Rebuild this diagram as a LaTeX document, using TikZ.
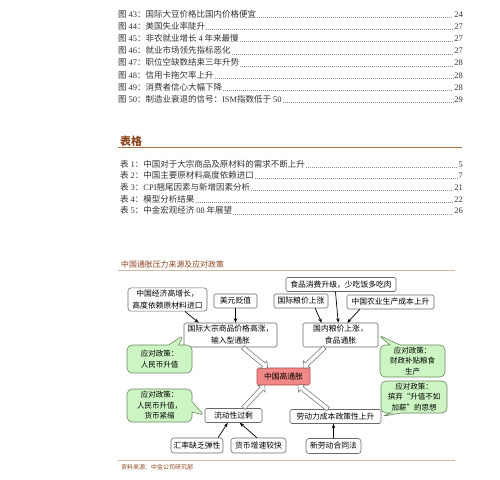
\documentclass[tikz,border=0pt]{standalone}
\usepackage{fontspec}
\setmainfont{Noto Sans CJK SC}
\newfontfamily\tms{Liberation Serif}
\usetikzlibrary{calc,arrows.meta,shapes.callouts,shapes.arrows}

\definecolor{heading}{RGB}{140,70,30}
\definecolor{rulebrown}{RGB}{175,115,70}
\definecolor{lightrule}{RGB}{210,185,165}
\definecolor{boxline}{RGB}{105,105,105}
\definecolor{policyfill}{RGB}{205,245,195}
\definecolor{policyline}{RGB}{110,135,100}
\definecolor{hotfill}{RGB}{242,135,135}
\definecolor{hotline}{RGB}{185,70,70}

\newcommand{\nm}[1]{{\tms #1}}
\newcommand{\hollowarrow}[2]{%
  \path let \p1=(#1), \p2=(#2), \n1={atan2(\y2-\y1,\x2-\x1)},
    \n2={veclen(\x2-\x1,\y2-\y1)} in
    node[hollow, rotate=\n1, minimum height=\n2, anchor=tail] at (#1) {};}

\begin{document}
\begin{tikzpicture}
  [x=1pt,y=-1pt,
   tocitem/.style={anchor=base west,inner sep=0pt,font=\fontsize{8.5}{10}\selectfont,text=black!80},
   tocpage/.style={anchor=base east,inner sep=0pt,font=\fontsize{8.5}{10}\selectfont,text=black!80},
   leader/.style={black!45,line width=0.5pt,dash pattern=on 0.5pt off 1.5pt,shorten <=1pt,shorten >=1pt},
   box/.style={draw=boxline,fill=white,line width=0.6pt,rounded corners=1.5pt,align=center,
     inner sep=2pt,minimum height=14pt,font=\fontsize{7.8}{12}\selectfont},
   rbox/.style={box,rounded corners=3pt},
   hot/.style={box,draw=hotline,fill=hotfill,minimum width=53pt,minimum height=17pt},
   policy/.style={rectangle callout,draw=policyline,fill=policyfill,line width=0.6pt,
     rounded corners=5pt,align=center,inner sep=2pt,minimum width=65pt,
     callout pointer width=10pt,font=\fontsize{7.5}{10.5}\selectfont},
   hollow/.style={single arrow,draw=boxline,fill=white,line width=0.5pt,inner sep=1.9pt,
     single arrow head extend=2.8pt,single arrow head indent=0pt},
   arr/.style={-{Stealth[length=4.5pt,width=3.5pt]},line width=0.7pt}]
  \fill[white] (0,0) rectangle (500,479);
  \useasboundingbox (0,0) rectangle (500,479);

  % list of figures
  \foreach \n/\t/\p [count=\i from 0] in {43/国际大豆价格比国内价格便宜/24,
      44/美国失业率陡升/27, 45/非农就业增长 \nm{4} 年来最慢/27, 46/就业市场领先指标恶化/27,
      47/职位空缺数结束三年升势/28, 48/信用卡拖欠率上升/28, 49/消费者信心大幅下降/28,
      50/制造业衰退的信号：\nm{ISM}指数低于 \nm{50}/29} {
    \node[tocitem] (f\n) at (118,{17.5+12.1*\i}) {图 \nm{\n}：\t};
    \node[tocpage] (fp\n) at (463,{17.5+12.1*\i}) {\nm{\p}};
    \draw[leader] (f\n.base east) -- (fp\n.base west);
  }

  % list of tables
  \node[anchor=west,inner sep=0pt,text=heading,font=\fontsize{11}{12}\selectfont\bfseries] (tabhead) at (120,141) {表格};
  \draw[rulebrown,line width=1.5pt] (118,147.5) -- (462,147.5);
  \foreach \n/\t/\p [count=\i from 0] in {1/中国对于大宗商品及原材料的需求不断上升/5,
      2/中国主要原材料高度依赖进口/7, 3/\nm{CPI}翘尾因素与新增因素分析/21,
      4/模型分析结果/22, 5/中金宏观经济 \nm{08} 年展望/26} {
    \node[tocitem] (t\n) at (120,{167+11.7*\i}) {表 \nm{\n}：\t};
    \node[tocpage] (tp\n) at (463,{167+11.7*\i}) {\nm{\p}};
    \draw[leader] (t\n.base east) -- (tp\n.base west);
  }

  % chart title and rules
  \node[anchor=west,inner sep=0pt,text=heading,font=\fontsize{7.9}{9}\selectfont] (title) at (121,264) {中国通胀压力来源及应对政策};
  \draw[lightrule,line width=0.8pt] (118,270.5) -- (455,270.5);
  \draw[lightrule,line width=0.8pt] (118,460) -- (455,460);
  \node[anchor=west,inner sep=0pt,text=heading,font=\fontsize{6}{7}\selectfont] (source) at (121,467) {资料来源：中金公司研究部};

  % causes
  \node[box,minimum width=110pt] (food) at (341,284.5) {食品消费升级，少吃饭多吃肉};
  \node[rbox,minimum width=79pt,minimum height=23pt] (growth) at (167.5,299.5) {中国经济高增长，\\高度依赖原材料进口};
  \node[box,minimum width=43pt] (usd) at (235.5,301) {美元贬值};
  \node[box,minimum width=54pt] (grain) at (301,301) {国际粮价上涨};
  \node[box,minimum width=87pt] (farm) at (390.5,302) {中国农业生产成本上升};
  \node[box,minimum width=93pt,minimum height=24pt] (commod) at (230.5,335) {国际大宗商品价格高涨，\\输入型通胀};
  \node[box,minimum width=75pt,minimum height=24pt] (domestic) at (340.5,335) {国内粮价上涨，\\食品通胀};
  \node[hot] (cpi) at (283.5,376.5) {中国高通胀};
  \node[box,minimum width=57pt] (liquid) at (233.5,415.5) {流动性过剩};
  \node[box,minimum width=91pt] (labor) at (335.5,416.5) {劳动力成本政策性上升};
  \node[rbox,minimum width=52pt,minimum height=15pt] (fx) at (197,445.5) {汇率缺乏弹性};
  \node[rbox,minimum width=55pt,minimum height=15pt] (money) at (258.5,445.5) {货币增速较快};
  \node[rbox,minimum width=55pt,minimum height=15pt] (law) at (333.5,446) {新劳动合同法};

  % thin arrows
  \draw[arr] ($(growth.south west)!0.72!(growth.south east)$) -- ($(commod.north west)!0.16!(commod.north east)$);
  \draw[arr] (usd.south) -- (usd.south |- commod.north);
  \draw[arr] ($(grain.south west)!0.76!(grain.south east)$) -- ($(domestic.north west)!0.25!(domestic.north east)$);
  \draw[arr] ($(food.south west)!0.45!(food.south east)$) -- ($(domestic.north west)!0.47!(domestic.north east)$);
  \draw[arr] ($(farm.south west)!0.15!(farm.south east)$) -- ($(domestic.north west)!0.59!(domestic.north east)$);
  \draw[arr] ($(fx.north west)!0.9!(fx.north east)$) -- ($(liquid.south west)!0.4!(liquid.south east)$);
  \draw[arr] ($(money.north west)!0.47!(money.north east)$) -- ($(liquid.south west)!0.61!(liquid.south east)$);
  \draw[arr] (law.north) -- (law.north |- labor.south);

  % hollow arrows into the centre
  \coordinate (a1s) at ($(commod.south west)!0.63!(commod.south east)$);
  \coordinate (a1e) at ($(cpi.north west)!0.2!(cpi.north east)$);
  \coordinate (a2s) at ($(domestic.south west)!0.29!(domestic.south east)$);
  \coordinate (a2e) at ($(cpi.north west)!0.87!(cpi.north east)$);
  \coordinate (a3s) at ($(liquid.north west)!0.67!(liquid.north east)$);
  \coordinate (a3e) at ($(cpi.south west)!0.15!(cpi.south east)$);
  \coordinate (a4s) at ($(labor.north west)!0.42!(labor.north east)$);
  \coordinate (a4e) at ($(cpi.south west)!0.77!(cpi.south east)$);
  \foreach \from/\to in {a1s/a1e,a2s/a2e,a3s/a3e,a4s/a4e}
    {\hollowarrow{\from}{\to}}

  % policy callouts
  \node[policy,minimum height=28pt,callout absolute pointer={(commod.west)}] (pol1) at (159.5,359) {应对政策：\\人民币升值};
  \node[policy,minimum height=33pt,callout absolute pointer={(liquid.west)}] (pol2) at (159.5,405.5) {应对政策：\\人民币升值，\\货币紧缩};
  \node[policy,minimum height=32pt,callout absolute pointer={(domestic.east)}] (pol3) at (412.5,361) {应对政策：\\财政补贴粮食\\生产};
  \node[policy,minimum width=66pt,minimum height=32pt,callout absolute pointer={(labor.east)}] (pol4) at (414,397) {应对政策：\\摈弃“升值不如\\加薪”的思想};
\end{tikzpicture}
\end{document}
